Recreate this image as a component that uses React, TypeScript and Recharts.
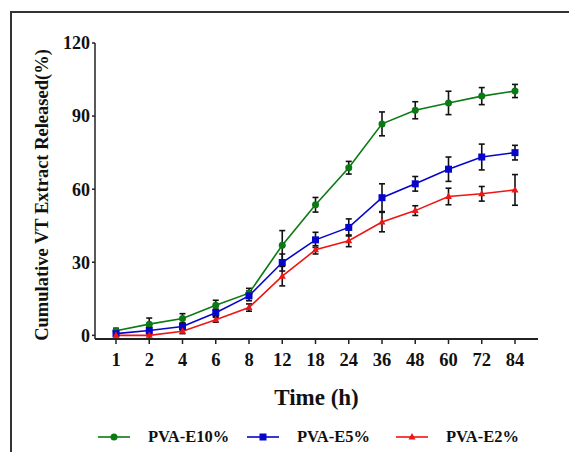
import React from 'react';
import { LineChart, Line, XAxis, YAxis, ErrorBar } from 'recharts';

const times = ['1', '2', '4', '6', '8', '12', '18', '24', '36', '48', '60', '72', '84'];
const e10 = [1.9, 4.6, 6.9, 12.4, 17.3, 37.0, 53.6, 68.8, 86.8, 92.4, 95.4, 98.2, 100.3];
const e10err = [1, 2.5, 2, 2, 2, 6, 3, 2.6, 4.9, 3.5, 4.8, 3.5, 2.7];
const e5 = [0.7, 2.0, 3.6, 9.3, 16.2, 29.9, 39.2, 44.3, 56.5, 62.2, 68.2, 73.2, 75.0];
const e5err = [0.8, 1.5, 1.5, 1.5, 2, 3.5, 3.1, 3.5, 5.7, 3, 5, 5.3, 3];
const e2 = [0, 0, 1.7, 6.4, 11.4, 24.3, 35.1, 38.8, 46.5, 51.2, 57.0, 58.1, 59.7];
const e2err = [0.5, 1.5, 1, 1, 1.5, 4, 1.7, 2.4, 4, 2, 3.4, 3, 6.3];
const yTicks = [0, 30, 60, 90, 120];

const seriesNames = ['PVA-E10%', 'PVA-E5%', 'PVA-E2%'];
const seriesColors = ['#0a7a12', '#0505cc', '#ee1515'];
const seriesKeys = ['e10', 'e5', 'e2'];
const seriesShapes = ['circle', 'square', 'triangle'];

const data = times.map((t, i) => ({
  time: t,
  e10: e10[i],
  e10err: e10err[i],
  e5: e5[i],
  e5err: e5err[i],
  e2: e2[i],
  e2err: e2err[i],
}));

const FONT = '"Liberation Serif", "Times New Roman", serif';

function Marker({ cx, cy, shape, color }: { cx: number; cy: number; shape: string; color: string }) {
  if (shape === 'square') {
    return <rect x={cx - 3.5} y={cy - 3.5} width={7} height={7} fill={color} />;
  }
  if (shape === 'triangle') {
    return <polygon points={`${cx},${cy - 4} ${cx - 3.5},${cy + 2.5} ${cx + 3.5},${cy + 2.5}`} fill={color} />;
  }
  return <circle cx={cx} cy={cy} r={3.5} fill={color} />;
}

const makeDot = (shape: string, color: string) => (props: any) => {
  const { cx, cy, index } = props;
  if (cx == null || cy == null) return <g key={`d-${index}`} />;
  return (
    <g key={`d-${shape}-${index}`}>
      <Marker cx={cx} cy={cy} shape={shape} color={color} />
    </g>
  );
};

const YLabel = (props: any) => {
  const vb = props.viewBox || {};
  const x = vb.x + 7;
  const y = vb.y + vb.height / 2 + 4;
  return (
    <text
      x={x}
      y={y}
      transform={`rotate(-90 ${x} ${y})`}
      textAnchor="middle"
      dominantBaseline="central"
      fontFamily={FONT}
      fontWeight="bold"
      fontSize={18.5}
      fill="#111"
    >
      Cumulative VT Extract Released(%)
    </text>
  );
};

export default function App() {
  return (
    <div style={{ position: 'relative', width: 577, height: 460, margin: -8, overflow: 'hidden', background: '#fff' }}>
      <div
        style={{
          position: 'absolute',
          left: 10,
          top: 11,
          width: 700,
          height: 600,
          borderTop: '2px solid #333',
          borderLeft: '2px solid #333',
        }}
      />
      <div style={{ position: 'absolute', left: 0, top: 0 }}>
        <LineChart width={577} height={460} data={data} margin={{ top: 43, right: 39, left: 35, bottom: 55 }}>
          <XAxis
            dataKey="time"
            type="category"
            height={66}
            padding={{ left: 21, right: 23 }}
            axisLine={{ stroke: '#222', strokeWidth: 2 }}
            tickLine={{ stroke: '#222', strokeWidth: 1.5 }}
            tickSize={5}
            tickMargin={9}
            tick={{ fontFamily: FONT, fontWeight: 'bold', fontSize: 18.5, fill: '#111' }}
            interval={0}
            label={{
              value: 'Time (h)',
              position: 'insideBottom',
              offset: 0,
              style: { fontFamily: FONT, fontWeight: 'bold', fontSize: 23, fill: '#111' },
            }}
          />
          <YAxis
            width={60}
            domain={[0, 120]}
            ticks={yTicks}
            axisLine={{ stroke: '#222', strokeWidth: 1.5 }}
            tickLine={{ stroke: '#222', strokeWidth: 1.5 }}
            tickSize={3}
            tickMargin={2}
            tick={{ fontFamily: FONT, fontWeight: 'bold', fontSize: 18, fill: '#111' }}
            label={<YLabel />}
          />
          {seriesKeys.map((k, i) => (
            <Line
              key={k}
              dataKey={k}
              name={seriesNames[i]}
              stroke={seriesColors[i]}
              strokeWidth={1.6}
              isAnimationActive={false}
              dot={makeDot(seriesShapes[i], seriesColors[i])}
              activeDot={false}
            >
              <ErrorBar dataKey={`${k}err`} direction="y" width={3} stroke="#111" strokeWidth={1.6} isAnimationActive={false} />
            </Line>
          ))}
        </LineChart>
      </div>
      {seriesNames.map((n, i) => (
        <div
          key={n}
          style={{
            position: 'absolute',
            left: 98 + i * 149,
            top: 427,
            height: 20,
            display: 'flex',
            alignItems: 'center',
            whiteSpace: 'nowrap',
          }}
        >
          <svg width={32} height={12} style={{ marginRight: 18 }}>
            <line x1={0} y1={6} x2={32} y2={6} stroke={seriesColors[i]} strokeWidth={1.6} />
            <Marker cx={16} cy={6} shape={seriesShapes[i]} color={seriesColors[i]} />
          </svg>
          <span style={{ fontFamily: FONT, fontWeight: 'bold', fontSize: 16.5, color: '#111' }}>{n}</span>
        </div>
      ))}
    </div>
  );
}
